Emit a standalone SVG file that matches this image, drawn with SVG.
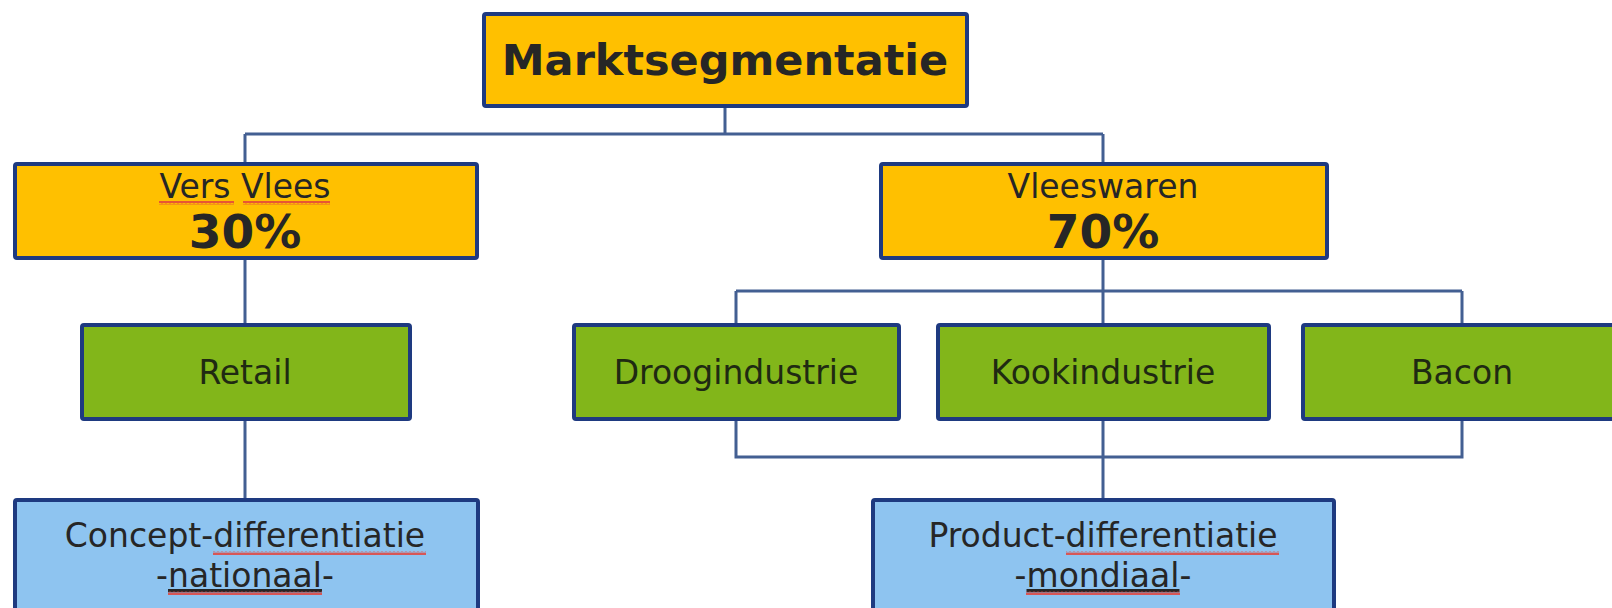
<svg xmlns="http://www.w3.org/2000/svg" width="1612" height="608" viewBox="0 0 1612 608">
  <defs>
    <pattern id="wavy" x="0" y="0" width="4" height="4" patternUnits="userSpaceOnUse">
      <path d="M0 3 L1 1 L2 3 L3 1 L4 3" fill="none" stroke="#e3443c" stroke-width="1.1"/>
    </pattern>
  </defs>
  <style>
    .box { stroke: #1e3a80; stroke-width: 4; }
    .orange { fill: #ffc000; }
    .green { fill: #82b61a; }
    .blue { fill: #8ec4f0; }
    .conn { fill: none; stroke: #435f92; stroke-width: 3; }
    text { font-family: "DejaVu Sans", Verdana, sans-serif; fill: #262626; text-anchor: middle; }
    .reg { font-size: 33px; }
    .pct { font-size: 47px; font-weight: bold; }
    .title { font-size: 43px; font-weight: bold; }
    .gtext { fill: #1f2a12; }
  </style>
  <rect width="1612" height="608" fill="#ffffff"/>

  <g id="connectors">
    <path class="conn" d="M725 108 V134 M245 134 H1103 M245 134 V162 M1103 134 V162"/>
    <path class="conn" d="M245 260 V323 M245 421 V498"/>
    <path class="conn" d="M1103 260 V323 M736 291 H1462 M736 291 V323 M1462 291 V323"/>
    <path class="conn" d="M736 421 V457 H1462 V421 M1103 421 V499"/>
  </g>

  <g id="marktsegmentatie">
    <rect class="box orange" x="484" y="14" width="483" height="92" rx="2"/>
    <text class="title" x="725" y="75">Marktsegmentatie</text>
  </g>

  <g id="vers-vlees">
    <rect class="box orange" x="15" y="164" width="462" height="94" rx="2"/>
    <text class="reg" x="245" y="198">Vers Vlees</text>
    <rect x="159" y="201" width="75" height="4" fill="url(#wavy)"/>
    <rect x="243" y="201" width="87" height="4" fill="url(#wavy)"/>
    <text class="pct" x="245" y="248">30%</text>
  </g>

  <g id="vleeswaren">
    <rect class="box orange" x="881" y="164" width="446" height="94" rx="2"/>
    <text class="reg" x="1103" y="198">Vleeswaren</text>
    <text class="pct" x="1103" y="248">70%</text>
  </g>

  <g id="retail">
    <rect class="box green" x="82" y="325" width="328" height="94" rx="2"/>
    <text class="reg gtext" x="245" y="384">Retail</text>
  </g>

  <g id="droogindustrie">
    <rect class="box green" x="574" y="325" width="325" height="94" rx="2"/>
    <text class="reg gtext" x="736" y="384">Droogindustrie</text>
  </g>

  <g id="kookindustrie">
    <rect class="box green" x="938" y="325" width="331" height="94" rx="2"/>
    <text class="reg gtext" x="1103" y="384">Kookindustrie</text>
  </g>

  <g id="bacon">
    <rect class="box green" x="1303" y="325" width="330" height="94" rx="2"/>
    <text class="reg gtext" x="1462" y="384">Bacon</text>
  </g>

  <g id="concept-differentiatie">
    <rect class="box blue" x="15" y="500" width="463" height="130" rx="2"/>
    <text class="reg" x="245" y="547">Concept-differentiatie</text>
    <text class="reg" x="245" y="587">-<tspan text-decoration="underline">nationaal</tspan>-</text>
    <rect x="213" y="551" width="213" height="4" fill="url(#wavy)"/>
    <rect x="168" y="591" width="154" height="4" fill="url(#wavy)"/>
  </g>

  <g id="product-differentiatie">
    <rect class="box blue" x="873" y="500" width="461" height="130" rx="2"/>
    <text class="reg" x="1103" y="547">Product-differentiatie</text>
    <text class="reg" x="1103" y="587">-<tspan text-decoration="underline">mondiaal</tspan>-</text>
    <rect x="1066" y="551" width="213" height="4" fill="url(#wavy)"/>
    <rect x="1026" y="591" width="154" height="4" fill="url(#wavy)"/>
  </g>
</svg>
